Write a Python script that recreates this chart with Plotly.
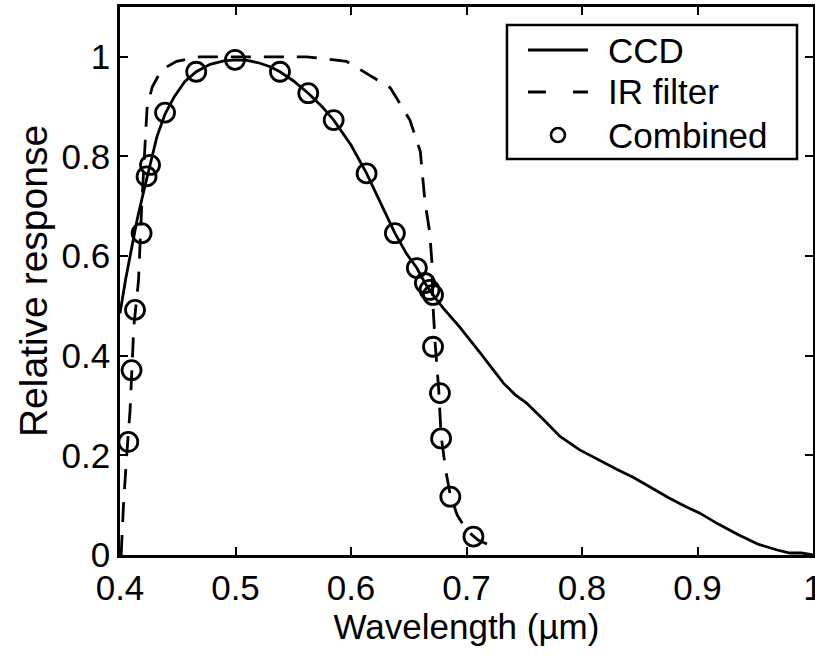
import plotly.graph_objects as go

# CCD spectral response (solid line)
ccd_x = [0.400, 0.405, 0.410, 0.415, 0.420, 0.426, 0.432, 0.439, 0.447, 0.456,
         0.466, 0.478, 0.490, 0.500, 0.510, 0.520, 0.530, 0.5385, 0.550, 0.563,
         0.575, 0.585, 0.600, 0.6135, 0.625, 0.638, 0.648, 0.657, 0.664, 0.671,
         0.680, 0.694, 0.712, 0.722, 0.732, 0.742, 0.752, 0.767, 0.781, 0.798,
         0.815, 0.830, 0.845, 0.860, 0.875, 0.890, 0.902, 0.918, 0.935, 0.952,
         0.969, 0.980, 0.990, 1.000]
ccd_y = [0.485, 0.555, 0.615, 0.675, 0.725, 0.785, 0.840, 0.885, 0.920, 0.950,
         0.970, 0.985, 0.992, 0.994, 0.993, 0.988, 0.980, 0.970, 0.952, 0.927,
         0.900, 0.873, 0.823, 0.766, 0.710, 0.646, 0.605, 0.576, 0.546, 0.522,
         0.495, 0.458, 0.405, 0.375, 0.345, 0.322, 0.305, 0.271, 0.238, 0.211,
         0.190, 0.172, 0.155, 0.135, 0.115, 0.097, 0.084, 0.062, 0.041, 0.022,
         0.010, 0.004, 0.004, 0.000]

# IR filter transmission (dashed line)
ir_x = [0.401, 0.403, 0.4058, 0.4087, 0.412, 0.416, 0.419, 0.421, 0.4235, 0.428,
        0.436, 0.449, 0.469, 0.500, 0.5615, 0.596, 0.6135, 0.634, 0.651, 0.660,
        0.664, 0.668, 0.670, 0.671, 0.673, 0.676, 0.678, 0.682, 0.686, 0.692,
        0.700, 0.710, 0.723]
ir_y = [0.000, 0.100, 0.200, 0.290, 0.460, 0.550, 0.710, 0.800, 0.900, 0.940,
        0.974, 0.991, 1.000, 1.000, 1.000, 0.991, 0.967, 0.938, 0.873, 0.810,
        0.710, 0.650, 0.590, 0.500, 0.420, 0.330, 0.240, 0.170, 0.120, 0.080,
        0.050, 0.030, 0.017]

# Combined response (open circles)
comb_x = [0.4072, 0.410, 0.413, 0.4187, 0.423, 0.426, 0.439, 0.466, 0.4996, 0.5385,
          0.563, 0.585, 0.6135, 0.638, 0.657, 0.664, 0.668, 0.671, 0.671, 0.677,
          0.678, 0.686, 0.706]
comb_y = [0.227, 0.371, 0.492, 0.646, 0.760, 0.783, 0.888, 0.970, 0.994, 0.970,
          0.927, 0.873, 0.766, 0.646, 0.576, 0.546, 0.532, 0.522, 0.418, 0.325,
          0.234, 0.117, 0.037]

series_names = ["CCD", "IR filter", "Combined"]

x_ticks = [0.4, 0.5, 0.6, 0.7, 0.8, 0.9, 1.0]
x_tick_text = ["0.4", "0.5", "0.6", "0.7", "0.8", "0.9", "1"]
y_ticks = [0, 0.2, 0.4, 0.6, 0.8, 1.0]
y_tick_text = ["0", "0.2", "0.4", "0.6", "0.8", "1"]

FONT = "Liberation Sans, Arial, sans-serif"
LW = 2.8
DASH = "20px,13px"

fig = go.Figure()
fig.add_trace(go.Scatter(x=ccd_x, y=ccd_y, mode="lines", name=series_names[0],
                         line=dict(color="black", width=LW)))
fig.add_trace(go.Scatter(x=ir_x, y=ir_y, mode="lines", name=series_names[1],
                         line=dict(color="black", width=LW, dash=DASH)))
fig.add_trace(go.Scatter(x=comb_x, y=comb_y, mode="markers", name=series_names[2],
                         marker=dict(symbol="circle-open", size=19, color="black",
                                     line=dict(color="black", width=LW))))

axis_common = dict(showline=True, linecolor="black", linewidth=2.5, mirror="ticks",
                   ticks="inside", ticklen=8, tickwidth=2, tickcolor="black",
                   showgrid=False, zeroline=False, ticklabeloverflow="allow",
                   automargin=False,
                   tickfont=dict(family=FONT, size=35, color="black"))

# ---- legend box drawn in axis-domain (paper) coordinates ----
box = dict(x0=0.5584, x1=0.9769, y0=0.7226, y1=0.9672)
row_y = [0.9215, 0.8449, 0.7664]
sample_x0, sample_x1 = 0.5887, 0.6753
text_x = 0.7020
marker_x = 0.6320

shapes = [dict(type="rect", xref="paper", yref="paper", layer="above",
               fillcolor="white", line=dict(color="black", width=2.5), **box),
          dict(type="line", xref="paper", yref="paper", layer="above",
               x0=sample_x0, x1=sample_x1, y0=row_y[0], y1=row_y[0],
               line=dict(color="black", width=LW)),
          dict(type="line", xref="paper", yref="paper", layer="above",
               x0=sample_x0, x1=sample_x1, y0=row_y[1], y1=row_y[1],
               line=dict(color="black", width=LW, dash="18px,27px")),
          dict(type="circle", xref="paper", yref="paper", layer="above",
               xsizemode="pixel", ysizemode="pixel",
               xanchor=marker_x, yanchor=row_y[2],
               x0=-7, x1=7, y0=-7, y1=7,
               line=dict(color="black", width=2.6))]

annotations = [dict(xref="paper", yref="paper", x=text_x, y=ry, text=name,
                    showarrow=False, xanchor="left", yanchor="middle",
                    font=dict(family=FONT, size=35, color="black"))
               for name, ry in zip(series_names, row_y)]

fig.update_layout(
    width=815, height=656,
    margin=dict(l=120, r=2, t=7, b=101, autoexpand=False),
    paper_bgcolor="white", plot_bgcolor="white",
    font=dict(family=FONT, color="black"),
    showlegend=False,
    shapes=shapes, annotations=annotations,
    xaxis=dict(range=[0.4, 1.0], tickvals=x_ticks, ticktext=x_tick_text,
               title=dict(text="Wavelength (µm)", font=dict(family=FONT, size=35), standoff=6),
               **axis_common),
    yaxis=dict(range=[0, 1.1], tickvals=y_ticks, ticktext=y_tick_text,
               title=dict(text="Relative response", font=dict(family=FONT, size=39), standoff=2),
               **axis_common),
)

fig.write_html("out.html")
